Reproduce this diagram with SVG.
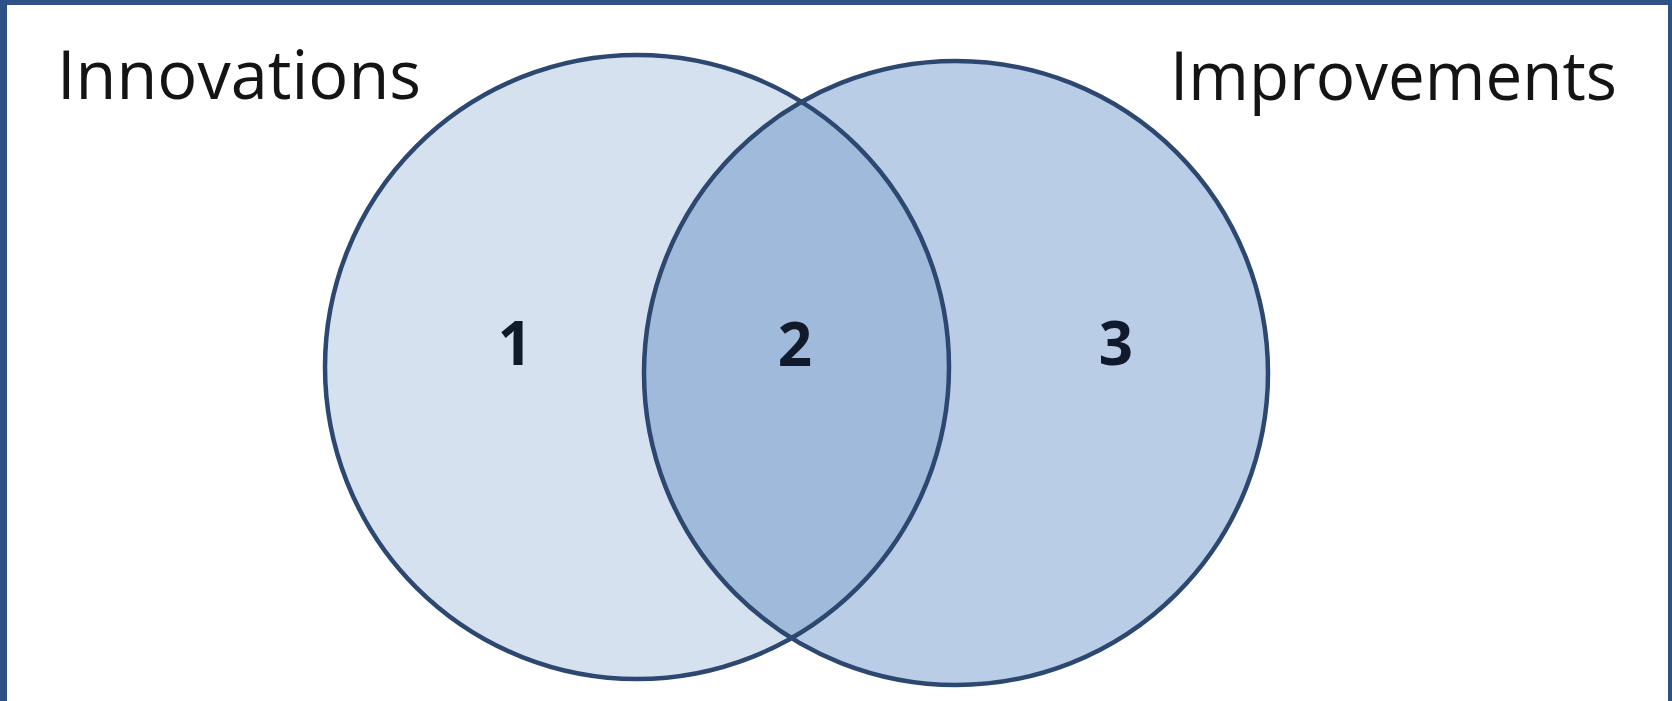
<svg xmlns="http://www.w3.org/2000/svg" width="1672" height="701" viewBox="0 0 1672 701">
<style>
.lbl{font-family:"Open Sans","Liberation Sans",sans-serif;font-size:67px;font-weight:500;fill:#141414}
.num{font-family:"Open Sans","Liberation Sans",sans-serif;font-size:60px;font-weight:bold;fill:#111a2a;text-anchor:middle}
.ring{fill:none;stroke:#2c4770;stroke-width:4.5}
</style>
<defs>
<clipPath id="clipL"><circle cx="637" cy="367" r="312"/></clipPath>
</defs>
<rect x="0" y="0" width="1672" height="701" fill="#2f5286"/>
<rect x="7" y="5" width="1661" height="696" fill="#ffffff"/>
<g id="innovations">
<circle cx="637" cy="367" r="312" fill="#d6e1f0"/>
</g>
<g id="improvements">
<circle cx="956" cy="373" r="312" fill="#b9cde6"/>
</g>
<g id="overlap">
<circle cx="956" cy="373" r="312" fill="#a0badc" clip-path="url(#clipL)"/>
</g>
<g id="outlines">
<circle class="ring" cx="637" cy="367" r="312"/>
<circle class="ring" cx="956" cy="373" r="312"/>
</g>
<g id="labels">
<text class="lbl" x="57" y="99" textLength="364" lengthAdjust="spacingAndGlyphs">Innovations</text>
<text class="lbl" x="1170" y="100" textLength="447" lengthAdjust="spacingAndGlyphs">Improvements</text>
<text class="num" x="515" y="365">1</text>
<text class="num" x="795" y="366">2</text>
<text class="num" x="1116" y="365">3</text>
</g>
</svg>
